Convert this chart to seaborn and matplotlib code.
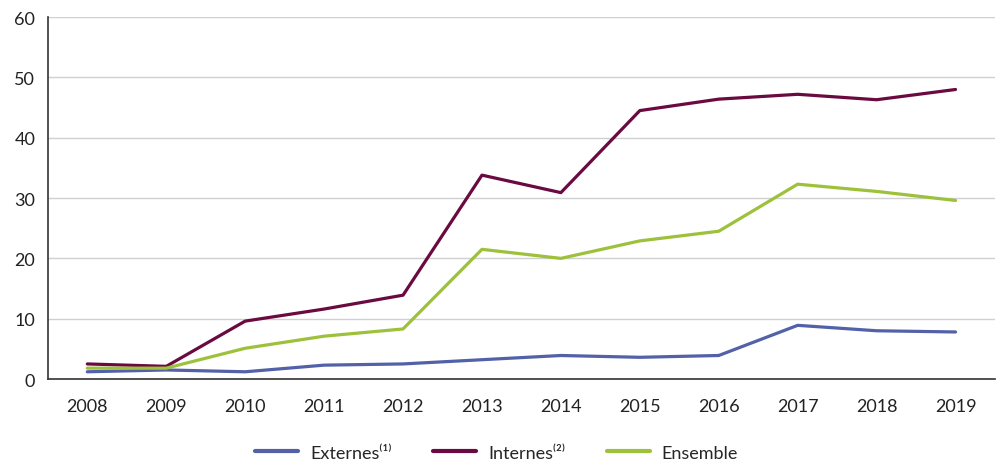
import numpy as np
import pandas as pd
import matplotlib
matplotlib.use("Agg")
import matplotlib.pyplot as plt
import seaborn as sns

years = ["2008", "2009", "2010", "2011", "2012", "2013",
         "2014", "2015", "2016", "2017", "2018", "2019"]
externes = [1.2, 1.5, 1.2, 2.3, 2.5, 3.2, 3.9, 3.6, 3.9, 8.9, 8.0, 7.8]
internes = [2.5, 2.1, 9.6, 11.6, 13.9, 33.8, 30.9, 44.5, 46.4, 47.2, 46.3, 48.0]
ensemble = [1.8, 1.8, 5.1, 7.1, 8.3, 21.5, 20.0, 22.9, 24.5, 32.3, 31.1, 29.6]
series_names = ["Externes⁽¹⁾", "Internes⁽²⁾", "Ensemble"]
colors = ["#5261a8", "#6a0a40", "#9dc13b"]

sns.set_style("white")
plt.rcParams["font.family"] = ["Lato", "DejaVu Sans"]

rows = []
for name, vals in zip(series_names, [externes, internes, ensemble]):
    for i, v in enumerate(vals):
        rows.append({"x": i, "valeur": v, "serie": name})
df = pd.DataFrame(rows)

fig = plt.figure(figsize=(9.97, 4.64), dpi=100)
ax = fig.add_axes([0.048, 0.181, 0.950, 0.780])

sns.lineplot(data=df, x="x", y="valeur", hue="serie", hue_order=series_names,
             palette=colors, linewidth=2.3, ax=ax)

ax.set_xlim(-0.5, len(years) - 0.5)
ax.set_ylim(0, 60)
ax.set_yticks(range(0, 61, 10))
ax.yaxis.grid(True, color="#d0d0d0", linewidth=1)
ax.set_axisbelow(True)

ax.set_xticks(np.arange(-0.5, len(years), 1))
ax.set_xticklabels([])
ax.set_xticks(range(len(years)), minor=True)
ax.set_xticklabels(years, minor=True)
ax.tick_params(axis="x", which="major", length=7, width=1, color="#333333", direction="out")
ax.tick_params(axis="x", which="minor", length=0, pad=14, labelsize=13, colors="#222222")
ax.tick_params(axis="y", length=6, width=1, color="#333333", labelsize=13, colors="#222222", pad=3)

for s in ["top", "right"]:
    ax.spines[s].set_visible(False)
for s in ["left", "bottom"]:
    ax.spines[s].set_color("#333333")
    ax.spines[s].set_linewidth(1.2)

ax.set_xlabel("")
ax.set_ylabel("")
leg = ax.legend(loc="center", bbox_to_anchor=(0.498, 0.022), bbox_transform=fig.transFigure,
                ncol=3, frameon=False, fontsize=13, handlelength=2.4, columnspacing=2.3,
                handletextpad=0.65)
for line in leg.get_lines():
    line.set_linewidth(3)

fig.savefig("out.png", dpi=100)
